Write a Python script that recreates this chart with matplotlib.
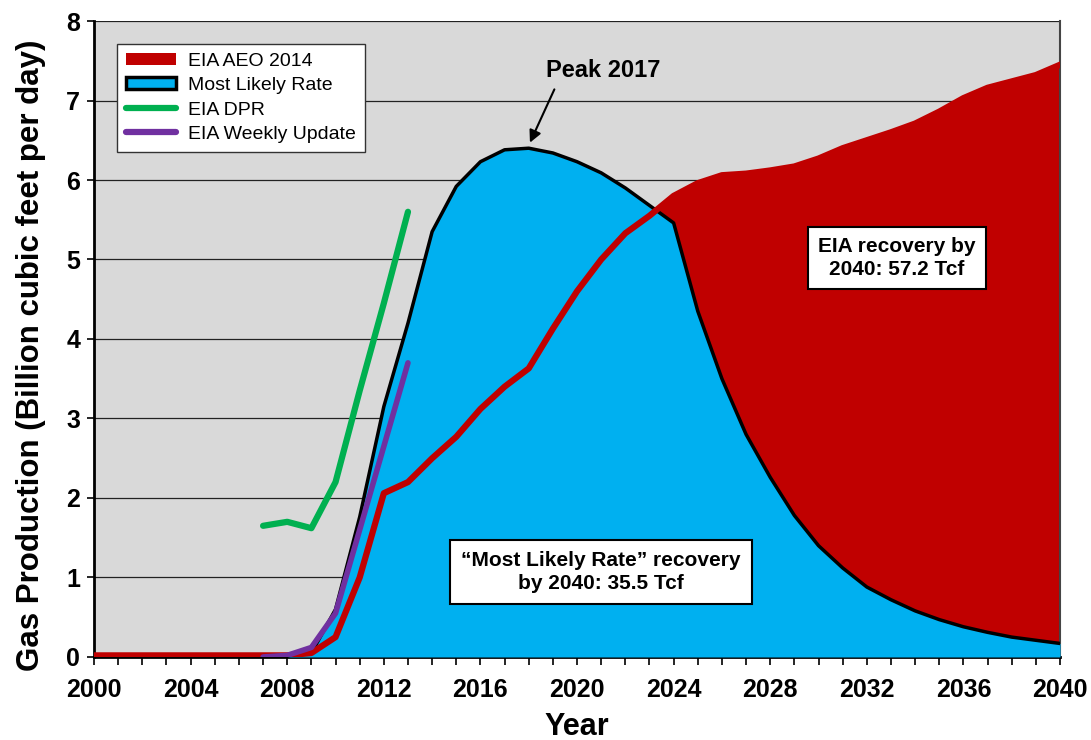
import numpy as np
import matplotlib.pyplot as plt
from matplotlib.patches import Patch
from matplotlib.lines import Line2D
from matplotlib.ticker import MultipleLocator

plt.rcParams['font.family'] = ['Liberation Sans', 'DejaVu Sans']

# Yearly values (Bcf/d)
years = np.arange(2000, 2041)
aeo_2014 = [0.02] * 9 + [0.05, 0.25, 1.0, 2.06, 2.2, 2.5, 2.77, 3.12, 3.4, 3.63, 4.13,
                         4.6, 5.0, 5.33, 5.55, 5.8, 5.96, 6.06, 6.08, 6.12, 6.17,
                         6.27, 6.4, 6.5, 6.6, 6.71, 6.86, 7.03, 7.16, 7.24, 7.32, 7.45]
most_likely = [0.0] * 9 + [0.05, 0.6, 1.76, 3.15, 4.2, 5.35, 5.92, 6.23, 6.38, 6.4, 6.34,
                           6.23, 6.09, 5.9, 5.68, 5.46, 4.35, 3.5, 2.8, 2.26, 1.78,
                           1.4, 1.12, 0.88, 0.72, 0.58, 0.47, 0.38, 0.31, 0.25, 0.21, 0.17]
dpr_years = [2007, 2008, 2009, 2010, 2011, 2012, 2013]
dpr = [1.65, 1.70, 1.62, 2.2, 3.35, 4.45, 5.6]
weekly_years = [2007, 2008, 2009, 2010, 2011, 2012, 2013]
weekly = [0.0, 0.02, 0.12, 0.55, 1.6, 2.65, 3.7]

red = '#c00000'
blue = '#00b0f0'
green = '#00b050'
purple = '#7030a0'

fig = plt.figure(figsize=(10.91, 7.40), dpi=100)
ax = fig.add_axes([0.0862, 0.1122, 0.8854, 0.8594])
ax.set_facecolor('#d9d9d9')

ax.fill_between(years, 0, aeo_2014, color=red, lw=0, zorder=2)
ax.fill_between(years, 0, most_likely, color=blue, lw=0, zorder=3)
ax.plot(years[9:], most_likely[9:], color='black', lw=2.5, zorder=4)
ax.plot(years, aeo_2014, color=red, lw=4.5, zorder=5)
ax.plot(dpr_years, dpr, color=green, lw=4.5, zorder=6, solid_capstyle='round')
ax.plot(weekly_years, weekly, color=purple, lw=4.0, zorder=6, solid_capstyle='round')

ax.set_xlim(2000, 2040)
ax.set_ylim(0, 8)
ax.yaxis.grid(True, color='#222222', lw=0.9, zorder=1)
ax.set_axisbelow(True)
ax.xaxis.set_major_locator(MultipleLocator(4))
ax.xaxis.set_minor_locator(MultipleLocator(1))
ax.yaxis.set_major_locator(MultipleLocator(1))
ax.tick_params(axis='x', which='both', direction='out', length=6, width=1.2, pad=9)
ax.tick_params(axis='y', which='major', direction='out', length=5, width=1.2, pad=5)
for lab in ax.get_xticklabels() + ax.get_yticklabels():
    lab.set_fontsize(18)
    lab.set_fontweight('bold')

ax.spines['top'].set_visible(False)
ax.spines['right'].set_color('#444444')
ax.spines['right'].set_linewidth(1.5)
ax.spines['left'].set_linewidth(2)
ax.spines['bottom'].set_linewidth(2)

ax.set_xlabel('Year', fontsize=22, fontweight='bold', labelpad=7)
ax.set_ylabel('Gas Production (Billion cubic feet per day)', fontsize=22.5,
              fontweight='bold')
ax.yaxis.set_label_coords(-0.05, 0.474)

# annotations
ax.annotate('Peak 2017', xy=(2018.05, 6.47), xytext=(2021.1, 7.38),
            fontsize=17, fontweight='bold', ha='center', va='center',
            arrowprops=dict(arrowstyle='-|>', color='black', lw=1.5,
                            shrinkA=6, shrinkB=0, mutation_scale=18,
                            patchA=None, relpos=(0.1, 0.0)))
ax.text(2021.0, 1.07, '\u201cMost Likely Rate\u201d recovery\nby 2040: 35.5 Tcf',
        fontsize=15, fontweight='bold', ha='center', va='center', zorder=8,
        linespacing=1.25,
        bbox=dict(boxstyle='square,pad=0.55', fc='white', ec='black', lw=1.5))
ax.text(2033.25, 5.02, 'EIA recovery by\n2040: 57.2 Tcf',
        fontsize=15, fontweight='bold', ha='center', va='center', zorder=8,
        linespacing=1.25,
        bbox=dict(boxstyle='square,pad=0.5', fc='white', ec='black', lw=1.5))

handles = [Patch(facecolor=red, edgecolor='none'),
           Patch(facecolor=blue, edgecolor='black', lw=2.5),
           Line2D([], [], color=green, lw=4.5, solid_capstyle='round'),
           Line2D([], [], color=purple, lw=4.5, solid_capstyle='round')]
labels = ['EIA AEO 2014', 'Most Likely Rate', 'EIA DPR', 'EIA Weekly Update']
leg = ax.legend(handles, labels, loc='upper left', bbox_to_anchor=(0.0238, 0.964),
                borderaxespad=0, fontsize=14, frameon=True, fancybox=False,
                framealpha=1, edgecolor='#333333', handlelength=2.6,
                handleheight=0.6, labelspacing=0.38, borderpad=0.45,
                handletextpad=0.6)
leg.get_frame().set_linewidth(1.0)
leg.set_zorder(10)

fig.savefig('out.png', dpi=100)
